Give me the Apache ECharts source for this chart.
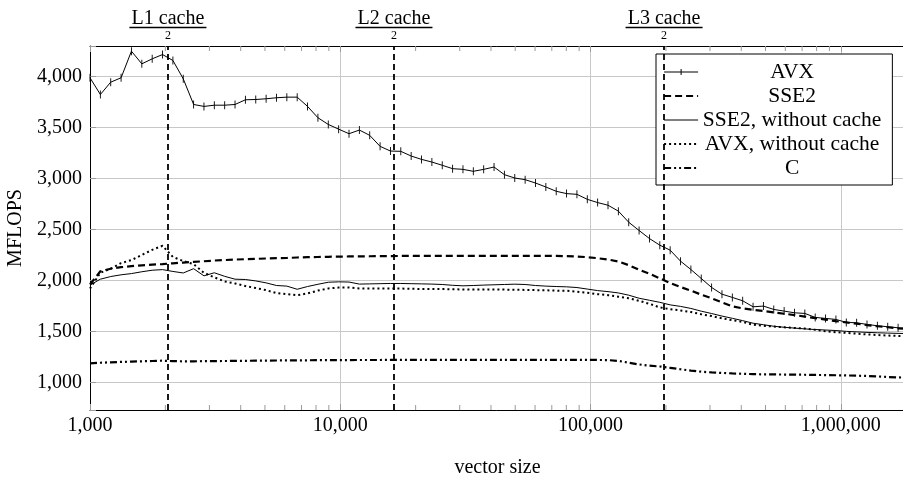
<!DOCTYPE html>
<html>
<head>
<meta charset="utf-8">
<script src="https://cdn.jsdelivr.net/npm/echarts@6/dist/echarts.min.js"></script>
<style>
  html, body { margin: 0; padding: 0; background: #fff; }
  #chart { width: 903px; height: 477px; }
</style>
</head>
<body>
<div id="chart"></div>
<script>
// Vector sizes (number of elements); each measurement is 10 % larger than the previous one
const vectorSizes = [
  1000, 1100, 1210, 1331, 1464, 1611, 1772, 1949, 2144, 2358,
  2594, 2853, 3138, 3452, 3797, 4177, 4595, 5054, 5560, 6116,
  6727, 7400, 8140, 8954, 9850, 10835, 11918, 13110, 14421, 15863,
  17449, 19194, 21114, 23225, 25548, 28102, 30913, 34004, 37404, 41145,
  45259, 49785, 54764, 60240, 66264, 72890, 80180, 88197, 97017, 106719,
  117391, 129130, 142043, 156247, 171872, 189059, 207965, 228762, 251638, 276801,
  304482, 334930, 368423, 405265, 445792, 490371, 539408, 593349, 652683, 717952,
  789747, 868722, 955594, 1051153, 1156269, 1271895, 1399085, 1538993, 1692893, 1862182
];

// Measured throughput in MFLOPS
const avx = [
  3989, 3825, 3946, 3989, 4250, 4126, 4175, 4217, 4159, 3979,
  3727, 3708, 3720, 3720, 3727, 3773, 3776, 3783, 3793, 3799,
  3799, 3708, 3597, 3531, 3485, 3440, 3476, 3424, 3316, 3270,
  3267, 3221, 3188, 3162, 3130, 3097, 3090, 3071, 3090, 3113,
  3038, 3005, 2989, 2956, 2917, 2875, 2852, 2845, 2796, 2764,
  2738, 2680, 2571, 2490, 2411, 2346, 2297, 2189, 2107, 2019,
  1931, 1865, 1833, 1800, 1741, 1748, 1715, 1699, 1682, 1676,
  1637, 1627, 1617, 1588, 1584, 1568, 1555, 1545, 1535, 1528
];
const sse2 = [
  1960, 2090, 2115, 2130, 2140, 2148, 2155, 2160, 2168, 2175,
  2182, 2188, 2195, 2200, 2205, 2208, 2212, 2215, 2218, 2220,
  2225, 2228, 2230, 2232, 2234, 2235, 2236, 2237, 2238, 2239,
  2240, 2240, 2240, 2240, 2240, 2240, 2240, 2240, 2240, 2240,
  2240, 2240, 2240, 2240, 2240, 2240, 2238, 2235, 2228, 2218,
  2205, 2185, 2150, 2105, 2065, 2020, 1975, 1935, 1900, 1860,
  1825, 1785, 1745, 1725, 1712, 1700, 1686, 1673, 1660, 1645,
  1630, 1615, 1600, 1588, 1575, 1562, 1550, 1540, 1530, 1522
];
const sse2NoCache = [
  1954, 2012, 2038, 2055, 2067, 2085, 2100, 2106, 2088, 2073,
  2115, 2045, 2075, 2040, 2012, 2009, 1995, 1976, 1950, 1944,
  1913, 1940, 1962, 1982, 1986, 1984, 1964, 1966, 1968, 1970,
  1970, 1968, 1966, 1964, 1960, 1952, 1947, 1950, 1954, 1957,
  1960, 1963, 1960, 1950, 1944, 1940, 1937, 1930, 1915, 1900,
  1890, 1877, 1855, 1825, 1805, 1785, 1760, 1745, 1725, 1698,
  1675, 1650, 1628, 1605, 1580, 1565, 1550, 1540, 1532, 1524,
  1518, 1513, 1508, 1500, 1495, 1490, 1486, 1483, 1480, 1478
];
const avxNoCache = [
  1920, 2075, 2115, 2170, 2200, 2250, 2300, 2340, 2230, 2190,
  2160, 2075, 2030, 1990, 1970, 1945, 1925, 1905, 1875, 1865,
  1855, 1872, 1900, 1921, 1930, 1931, 1921, 1920, 1921, 1921,
  1920, 1918, 1916, 1915, 1915, 1913, 1911, 1910, 1910, 1911,
  1910, 1908, 1907, 1905, 1903, 1900, 1898, 1890, 1878, 1865,
  1855, 1840, 1825, 1800, 1770, 1735, 1718, 1705, 1690, 1668,
  1650, 1628, 1610, 1592, 1565, 1555, 1547, 1540, 1533, 1528,
  1515, 1500, 1492, 1485, 1478, 1470, 1464, 1459, 1455, 1452
];
const plainC = [
  1186, 1192, 1196, 1200, 1203, 1206, 1209, 1212, 1208, 1206,
  1206, 1207, 1208, 1209, 1210, 1211, 1212, 1213, 1214, 1215,
  1216, 1216, 1217, 1217, 1218, 1218, 1219, 1219, 1219, 1220,
  1220, 1220, 1220, 1220, 1220, 1220, 1220, 1220, 1220, 1220,
  1220, 1220, 1220, 1220, 1220, 1220, 1220, 1220, 1220, 1219,
  1218, 1210, 1192, 1175, 1163, 1155, 1142, 1128, 1115, 1104,
  1097, 1092, 1087, 1083, 1080, 1078, 1077, 1076, 1075, 1074,
  1072, 1071, 1069, 1067, 1065, 1062, 1058, 1052, 1048, 1045
];

const seriesNames = ['AVX', 'SSE2', 'SSE2, without cache', 'AVX, without cache', 'C'];

// Half of each cache size, in elements
const cacheSizes = [2048, 16384, 196608];
const cacheNames = ['L1 cache', 'L2 cache', 'L3 cache'];
const cacheDivisor = '2';

// Axis ranges
const X_MIN = 1000;
const X_MAX = 1804000;
const Y_MIN = 728;
const Y_MAX = 4301;

// Minor tick positions on the logarithmic axis (2..9 times each power of ten)
const minorTickValues = [];
for (let e = 3; e <= 6; e++) {
  for (let m = 2; m <= 9; m++) {
    const v = m * Math.pow(10, e);
    if (v < X_MAX) minorTickValues.push(v);
  }
}

const FONT = "'Liberation Serif', 'Times New Roman', serif";
const GRID_COLOR = '#c8c8c8';
const TICK_COLOR = '#9a9a9a';

function withCommas(n) {
  return String(Math.round(n)).replace(/\B(?=(\d{3})+(?!\d))/g, ',');
}
function pairs(values) {
  return vectorSizes.map((x, i) => [x, values[i]]);
}
function isPowerOfTen(v) {
  const l = Math.log10(v);
  return Math.abs(l - Math.round(l)) < 1e-6;
}

const lineStyles = [
  { color: '#000', width: 1 },
  { color: '#000', width: 2.2, type: [7, 4] },
  { color: '#000', width: 1 },
  { color: '#000', width: 2, type: [2, 3] },
  { color: '#000', width: 2.2, type: [7, 3, 2, 3, 2, 3] }
];
const seriesValues = [avx, sse2, sse2NoCache, avxNoCache, plainC];

const lineSeries = seriesNames.map((name, i) => {
  const s = {
    name: name,
    type: 'line',
    data: pairs(seriesValues[i]),
    lineStyle: lineStyles[i],
    itemStyle: { color: '#000' },
    symbol: 'none',
    showSymbol: false,
    z: 10 - i,
    animation: false,
    emphasis: { disabled: true }
  };
  if (i === 0) {
    // vertical bar marks on every measurement
    s.symbol = 'path://M0 0H1V9H0Z';
    s.symbolKeepAspect = true;
    s.symbolSize = 8;
    s.showSymbol = true;
  }
  return s;
});

// Dashed markers for half of each cache level
lineSeries[4].markLine = {
  silent: true,
  symbol: ['none', 'none'],
  animation: false,
  lineStyle: { color: '#000', width: 1.8, type: [6, 4] },
  emphasis: { disabled: true },
  label: {
    show: true,
    position: 'end',
    distance: 3,
    fontFamily: FONT,
    fontSize: 20,
    color: '#000',
    formatter: '{n|{b}}\n{bar|}\n{d|' + cacheDivisor + '}',
    rich: {
      n: { fontFamily: FONT, fontSize: 20, lineHeight: 15, color: '#000', align: 'center' },
      bar: { width: 77, height: 1.3, lineHeight: 3, backgroundColor: '#000', align: 'center' },
      d: { fontFamily: FONT, fontSize: 12, lineHeight: 14, color: '#000', align: 'center' }
    }
  },
  data: cacheSizes.map((v, i) => ({ name: cacheNames[i], xAxis: v }))
};

// Minor ticks along the bottom and top edges
const minorTicks = {
  type: 'custom',
  name: 'minorTicks',
  silent: true,
  animation: false,
  z: 3,
  clip: false,
  data: minorTickValues.map(v => [v, Y_MIN]),
  renderItem: function (params, api) {
    const v = api.value(0);
    const b = api.coord([v, Y_MIN]);
    const t = api.coord([v, Y_MAX]);
    return {
      type: 'group',
      children: [
        { type: 'line', shape: { x1: b[0], y1: b[1], x2: b[0], y2: b[1] - 5 }, style: { stroke: TICK_COLOR, lineWidth: 1 } },
        { type: 'line', shape: { x1: t[0], y1: t[1], x2: t[0], y2: t[1] + 5 }, style: { stroke: TICK_COLOR, lineWidth: 1 } }
      ]
    };
  }
};

const legendWidths = [1, 2.2, 1, 2, 2.2];
// line with a short vertical bar in the middle, for the marked series
const markedIcon = 'path://M0 2.5H34V3.5H0Z M16.5 0H17.5V6H16.5Z';

const option = {
  backgroundColor: '#fff',
  animation: false,
  textStyle: { fontFamily: FONT, color: '#000' },
  grid: { left: 90, top: 46, right: -2, bottom: 67, containLabel: false, outerBoundsMode: 'none' },
  legend: {
    orient: 'vertical',
    left: 656,
    top: 54,
    padding: [7, 11, 6, 7],
    itemGap: 2,
    itemWidth: 34,
    itemHeight: 6,
    itemTextGap: 3,
    backgroundColor: '#fff',
    borderColor: '#000',
    borderWidth: 1,
    borderRadius: 0,
    selectedMode: false,
    data: seriesNames.map((name, i) => (i === 0
      ? { name: name, icon: markedIcon, itemStyle: { color: '#000' } }
      : { name: name, itemStyle: { opacity: 0 }, lineStyle: { width: legendWidths[i] } })),
    formatter: name => '{c|' + name + '}',
    textStyle: {
      lineHeight: 20,
      rich: {
        c: { width: 178, align: 'center', fontFamily: FONT, fontSize: 21.5, lineHeight: 20, color: '#000' }
      }
    }
  },
  xAxis: [
    {
      type: 'log',
      logBase: 10,
      min: X_MIN,
      max: X_MAX,
      position: 'bottom',
      name: 'vector size',
      nameLocation: 'middle',
      nameGap: 48,
      nameTextStyle: { fontFamily: FONT, fontSize: 20, color: '#000' },
      axisLine: { show: true, onZero: false, lineStyle: { color: '#000', width: 1 } },
      axisTick: { show: true, inside: true, length: 6, lineStyle: { color: TICK_COLOR } },
      axisLabel: {
        margin: 6,
        fontFamily: FONT,
        fontSize: 20,
        color: '#000',
        formatter: v => (isPowerOfTen(v) ? withCommas(v) : '')
      },
      splitLine: { show: true, lineStyle: { color: GRID_COLOR, width: 1 } }
    },
    {
      type: 'log',
      logBase: 10,
      min: X_MIN,
      max: X_MAX,
      position: 'top',
      axisLine: { show: true, onZero: false, lineStyle: { color: '#000', width: 1 } },
      axisTick: { show: true, inside: true, length: 6, lineStyle: { color: TICK_COLOR } },
      axisLabel: { show: false },
      splitLine: { show: false }
    }
  ],
  yAxis: {
    type: 'value',
    min: Y_MIN,
    max: Y_MAX,
    splitNumber: 7,
    name: 'MFLOPS',
    nameLocation: 'middle',
    nameGap: 60,
    nameTextStyle: { fontFamily: FONT, fontSize: 20, color: '#000' },
    axisLine: { show: true, lineStyle: { color: '#000', width: 1 } },
    axisTick: { show: true, inside: true, length: 6, lineStyle: { color: TICK_COLOR } },
    axisLabel: {
      margin: 8,
      fontFamily: FONT,
      fontSize: 20,
      color: '#000',
      formatter: v => (v % 500 === 0 ? withCommas(v) : '')
    },
    splitLine: { show: true, lineStyle: { color: GRID_COLOR, width: 1 } }
  },
  series: [minorTicks].concat(lineSeries)
};

const chart = echarts.init(document.getElementById('chart'), null, { renderer: 'canvas' });
chart.setOption(option);
</script>
</body>
</html>
